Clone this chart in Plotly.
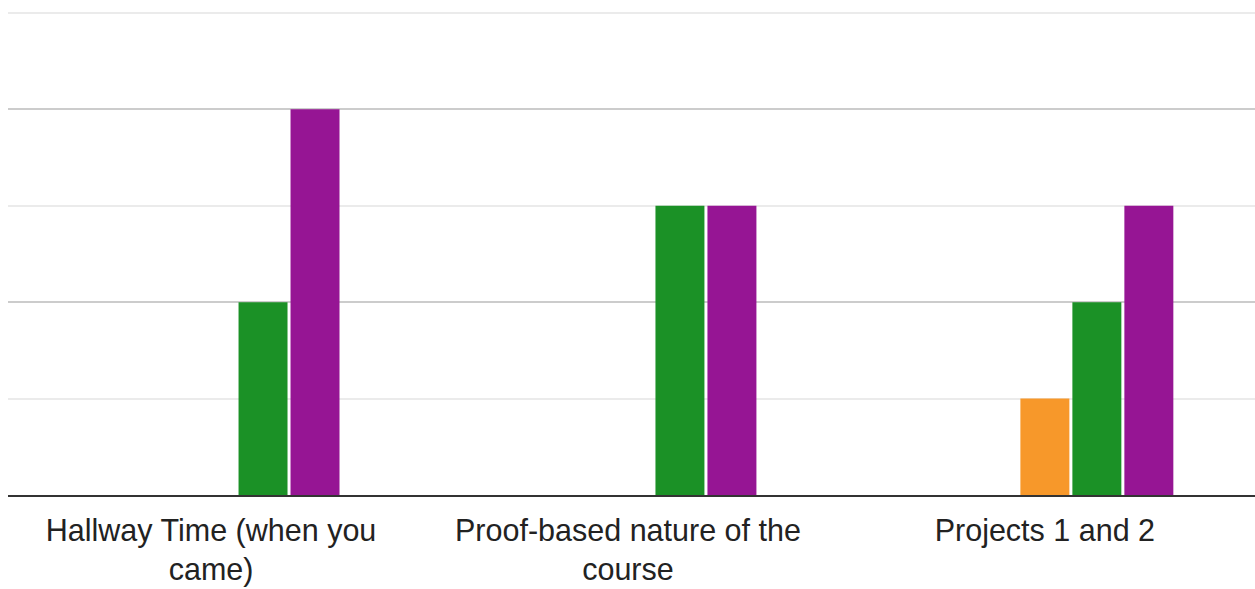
import plotly.graph_objects as go

# Survey topics (x categories) and response counts per rating level
categories = [
    "Hallway Time (when you<br>came)",
    "Proof-based nature of the<br>course",
    "Projects 1 and 2",
]
rating_levels = ["1", "2", "3", "4", "5"]
counts_1 = [0, 0, 0]
counts_2 = [0, 0, 0]
counts_3 = [0, 0, 1]
counts_4 = [2, 3, 2]
counts_5 = [4, 3, 3]

series = [counts_1, counts_2, counts_3, counts_4, counts_5]
colors = ["#3366CC", "#DC3912", "#F7982A", "#1B9126", "#961594"]

fig = go.Figure()
for name, vals, col in zip(rating_levels, series, colors):
    fig.add_trace(go.Bar(
        x=categories,
        y=vals,
        name=name,
        marker=dict(color=col, line=dict(width=0)),
        hoverinfo="x+y+name",
    ))

fig.update_layout(
    width=1255,
    height=589,
    barmode="group",
    bargap=0.3765,
    bargroupgap=0.058,
    showlegend=False,
    plot_bgcolor="white",
    paper_bgcolor="white",
    margin=dict(l=8, r=0, t=11, b=94),
    font=dict(family="Liberation Sans, Arial, sans-serif", color="#222222"),
)

fig.update_xaxes(
    range=[-0.487, 2.504],
    showgrid=False,
    showline=True,
    linecolor="#333333",
    linewidth=2,
    ticks="",
    ticklabelstandoff=7,
    tickfont=dict(size=30.5, color="#222222"),
)

fig.update_yaxes(
    range=[0, 5.02],
    dtick=2,
    tick0=0,
    showticklabels=False,
    showgrid=True,
    gridcolor="#cccccc",
    gridwidth=2,
    zeroline=False,
    minor=dict(dtick=1, tick0=0, showgrid=True, gridcolor="#ebebeb", gridwidth=2),
    fixedrange=True,
)

fig.write_html("out.html")
